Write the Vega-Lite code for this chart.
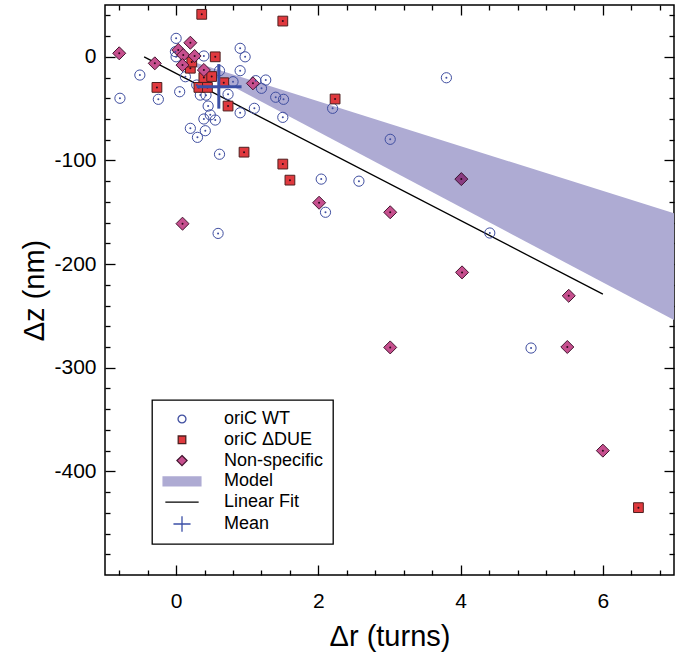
{
  "$schema": "https://vega.github.io/schema/vega-lite/v6.json",
  "width": 569,
  "height": 570,
  "autosize": {"type": "none"},
  "padding": {"left": 105, "top": 5, "right": 6, "bottom": 83},
  "config": {
    "font": "Liberation Sans",
    "view": {"stroke": "#000000", "strokeWidth": 1.5},
    "axis": {
      "domain": false,
      "grid": false,
      "tickColor": "#000000",
      "tickWidth": 1.3,
      "labelColor": "#000000",
      "labelFont": "Liberation Sans",
      "labelFontSize": 21,
      "titleFont": "Liberation Sans",
      "titleFontSize": 29,
      "titleFontWeight": "normal",
      "titleColor": "#000000",
      "labelFlush": false,
      "labelOverlap": false
    },
    "legend": {
      "labelFont": "Liberation Sans",
      "labelFontSize": 18,
      "labelColor": "#000000",
      "strokeColor": "#000000",
      "strokeWidth": 1.3,
      "symbolStrokeWidth": 1.3,
      "symbolOpacity": 1,
      "padding": 9,
      "rowPadding": 1.8,
      "symbolOffset": 11,
      "labelOffset": 32,
      "labelLimit": 400
    }
  },
  "datasets": {
    "points": [
      {"series": "oriC WT", "x": 0.0, "y": 17.8},
      {"series": "oriC WT", "x": -0.01, "y": 5},
      {"series": "oriC WT", "x": 0.0, "y": 0},
      {"series": "oriC WT", "x": 0.39, "y": 0.8},
      {"series": "oriC WT", "x": 0.9, "y": 8.2},
      {"series": "oriC WT", "x": 0.97, "y": 0},
      {"series": "oriC WT", "x": -0.51, "y": -17.6},
      {"series": "oriC WT", "x": -0.79, "y": -40},
      {"series": "oriC WT", "x": -0.25, "y": -41},
      {"series": "oriC WT", "x": 0.05, "y": -33.7},
      {"series": "oriC WT", "x": 0.13, "y": -19.2},
      {"series": "oriC WT", "x": 0.29, "y": -27.2},
      {"series": "oriC WT", "x": 0.61, "y": -13.4},
      {"series": "oriC WT", "x": 0.8, "y": -24},
      {"series": "oriC WT", "x": 0.9, "y": -13.4},
      {"series": "oriC WT", "x": 1.12, "y": -23},
      {"series": "oriC WT", "x": 1.26, "y": -22.4},
      {"series": "oriC WT", "x": 1.2, "y": -30.4},
      {"series": "oriC WT", "x": 1.4, "y": -39},
      {"series": "oriC WT", "x": 1.51, "y": -41},
      {"series": "oriC WT", "x": 1.5, "y": -58.4},
      {"series": "oriC WT", "x": 1.1, "y": -49.7},
      {"series": "oriC WT", "x": 0.9, "y": -54},
      {"series": "oriC WT", "x": 0.73, "y": -36.2},
      {"series": "oriC WT", "x": 0.34, "y": -36.9},
      {"series": "oriC WT", "x": 0.42, "y": -37},
      {"series": "oriC WT", "x": 0.34, "y": -29},
      {"series": "oriC WT", "x": 0.45, "y": -47.5},
      {"series": "oriC WT", "x": 0.48, "y": -56},
      {"series": "oriC WT", "x": 0.55, "y": -61},
      {"series": "oriC WT", "x": 0.39, "y": -60},
      {"series": "oriC WT", "x": 0.2, "y": -69},
      {"series": "oriC WT", "x": 0.41, "y": -71.3},
      {"series": "oriC WT", "x": 0.3, "y": -77.7},
      {"series": "oriC WT", "x": 0.61, "y": -94},
      {"series": "oriC WT", "x": 2.2, "y": -49.7},
      {"series": "oriC WT", "x": 3.8, "y": -20.2},
      {"series": "oriC WT", "x": 3.01, "y": -79.6},
      {"series": "oriC WT", "x": 2.04, "y": -118},
      {"series": "oriC WT", "x": 2.57, "y": -120},
      {"series": "oriC WT", "x": 2.1, "y": -150},
      {"series": "oriC WT", "x": 4.41, "y": -170},
      {"series": "oriC WT", "x": 4.99, "y": -281},
      {"series": "oriC WT", "x": 0.59, "y": -170.4},
      {"series": "oriC ΔDUE", "x": 0.36, "y": 41},
      {"series": "oriC ΔDUE", "x": 1.5, "y": 34.5},
      {"series": "oriC ΔDUE", "x": 0.55, "y": 0},
      {"series": "oriC ΔDUE", "x": -0.27, "y": -29.5},
      {"series": "oriC ΔDUE", "x": 0.2, "y": -11},
      {"series": "oriC ΔDUE", "x": 0.22, "y": -5},
      {"series": "oriC ΔDUE", "x": 0.39, "y": -20},
      {"series": "oriC ΔDUE", "x": 0.5, "y": -19},
      {"series": "oriC ΔDUE", "x": 0.67, "y": -25},
      {"series": "oriC ΔDUE", "x": 0.32, "y": -29.5},
      {"series": "oriC ΔDUE", "x": 0.44, "y": -29.5},
      {"series": "oriC ΔDUE", "x": 0.73, "y": -47.5},
      {"series": "oriC ΔDUE", "x": 0.955, "y": -92},
      {"series": "oriC ΔDUE", "x": 1.5, "y": -103.5},
      {"series": "oriC ΔDUE", "x": 1.6, "y": -119},
      {"series": "oriC ΔDUE", "x": 2.235, "y": -40.7},
      {"series": "oriC ΔDUE", "x": 6.5, "y": -435},
      {"series": "Non-specific", "x": -0.8, "y": 3.4},
      {"series": "Non-specific", "x": -0.3, "y": -6.3},
      {"series": "Non-specific", "x": 0.03, "y": 6.6},
      {"series": "Non-specific", "x": 0.1, "y": 1.7},
      {"series": "Non-specific", "x": 0.2, "y": 13.6},
      {"series": "Non-specific", "x": 0.26, "y": 0.8},
      {"series": "Non-specific", "x": 0.09, "y": -8},
      {"series": "Non-specific", "x": 0.39, "y": -12.7},
      {"series": "Non-specific", "x": 1.08, "y": -25.6},
      {"series": "Non-specific", "x": 2.01, "y": -140.8},
      {"series": "Non-specific", "x": 3.01, "y": -150},
      {"series": "Non-specific", "x": 4.02, "y": -208},
      {"series": "Non-specific", "x": 5.52, "y": -230.6},
      {"series": "Non-specific", "x": 3.01, "y": -280.4},
      {"series": "Non-specific", "x": 5.5, "y": -280},
      {"series": "Non-specific", "x": 6.0, "y": -380},
      {"series": "Non-specific", "x": 0.09, "y": -161},
      {"series": "Non-specific dark", "x": 4.01, "y": -118}
    ],
    "band": [
      {"x": 0.2, "upper": -4, "lower": -7},
      {"x": 7.0, "upper": -151, "lower": -254}
    ],
    "fit": [
      {"x": -0.45, "y": 0},
      {"x": 6.0, "y": -229}
    ],
    "mean": [
      {"x": 0.6, "y": -29, "xlo": 0.29, "xhi": 0.92, "ylo": -50, "yhi": -7}
    ]
  },
  "layer": [
    {
      "data": {"name": "band"},
      "mark": {"type": "area", "color": "#aeabd3", "opacity": 1},
      "encoding": {
        "x": {
          "field": "x", "type": "quantitative",
          "scale": {"domain": [-1, 7], "nice": false, "zero": false},
          "title": "Δr (turns)",
          "axis": {
            "orient": "bottom",
            "values": [-0.8, -0.4, 0, 0.4, 0.8, 1.2, 1.6, 2, 2.4, 2.8, 3.2, 3.6, 4, 4.4, 4.8, 5.2, 5.6, 6, 6.4, 6.8],
            "labelExpr": "datum.value % 2 === 0 ? '' + datum.value : ''",
            "tickSize": {"condition": {"test": "datum.value % 2 === 0", "value": -10}, "value": -5},
            "labelPadding": 25,
            "titlePadding": 6
          }
        },
        "y": {
          "field": "upper", "type": "quantitative",
          "scale": {"domain": [-500, 50], "nice": false, "zero": false},
          "title": "Δz (nm)",
          "axis": {
            "orient": "left",
            "values": [40, 20, 0, -20, -40, -60, -80, -100, -120, -140, -160, -180, -200, -220, -240, -260, -280, -300, -320, -340, -360, -380, -400, -420, -440, -460, -480],
            "labelExpr": "datum.value % 100 === 0 ? '' + datum.value : ''",
            "tickSize": {"condition": {"test": "datum.value % 100 === 0", "value": -10}, "value": -5},
            "labelPadding": 19,
            "titlePadding": 4
          }
        },
        "y2": {"field": "lower"}
      }
    },
    {
      "data": {"name": "fit"},
      "mark": {"type": "line", "color": "#000000", "strokeWidth": 1.3},
      "encoding": {
        "x": {
          "field": "x", "type": "quantitative", "title": null,
          "axis": {
            "orient": "top",
            "values": [-0.8, -0.4, 0, 0.4, 0.8, 1.2, 1.6, 2, 2.4, 2.8, 3.2, 3.6, 4, 4.4, 4.8, 5.2, 5.6, 6, 6.4, 6.8],
            "labels": false,
            "tickSize": {"condition": {"test": "datum.value % 2 === 0", "value": -10}, "value": -5}
          }
        },
        "y": {
          "field": "y", "type": "quantitative", "title": null,
          "axis": {
            "orient": "right",
            "values": [40, 20, 0, -20, -40, -60, -80, -100, -120, -140, -160, -180, -200, -220, -240, -260, -280, -300, -320, -340, -360, -380, -400, -420, -440, -460, -480],
            "labels": false,
            "tickSize": {"condition": {"test": "datum.value % 100 === 0", "value": -10}, "value": -5}
          }
        }
      }
    },
    {
      "data": {"name": "points"},
      "mark": {"type": "point", "filled": true, "size": 540, "strokeWidth": 1, "opacity": 1},
      "encoding": {
        "x": {"field": "x", "type": "quantitative", "axis": null},
        "y": {"field": "y", "type": "quantitative", "axis": null},
        "shape": {
          "field": "series", "type": "nominal",
          "scale": {
            "domain": ["oriC WT", "oriC ΔDUE", "Non-specific", "Model", "Linear Fit", "Mean", "Non-specific dark"],
            "range": [
              "M-0.44,0A0.44,0.44,0,1,1,0.44,0A0.44,0.44,0,1,1,-0.44,0Z",
              "M-0.42,-0.42H0.42V0.42H-0.42Z",
              "M0,-0.56L0.56,0L0,0.56L-0.56,0Z",
              "M-2.1,-0.5H2.1V0.5H-2.1Z",
              "M-1.85,0H1.85",
              "M-0.95,0H0.95M0,-0.85V0.85",
              "M0,-0.56L0.56,0L0,0.56L-0.56,0Z"
            ]
          },
          "legend": {
            "title": null,
            "orient": "none",
            "legendX": 47,
            "legendY": 395,
            "symbolSize": 324,
            "values": ["oriC WT", "oriC ΔDUE", "Non-specific", "Model", "Linear Fit", "Mean"]
          }
        },
        "fill": {
          "field": "series", "type": "nominal",
          "scale": {
            "domain": ["oriC WT", "oriC ΔDUE", "Non-specific", "Model", "Linear Fit", "Mean", "Non-specific dark"],
            "range": ["transparent", "#e0393e", "#c64f8e", "#aeabd3", "transparent", "transparent", "#8a3c82"]
          },
          "legend": {
            "title": null,
            "orient": "none",
            "legendX": 47,
            "legendY": 395,
            "symbolSize": 324,
            "values": ["oriC WT", "oriC ΔDUE", "Non-specific", "Model", "Linear Fit", "Mean"]
          }
        },
        "stroke": {
          "field": "series", "type": "nominal",
          "scale": {
            "domain": ["oriC WT", "oriC ΔDUE", "Non-specific", "Model", "Linear Fit", "Mean", "Non-specific dark"],
            "range": ["#3f4ea0", "#4d1f1f", "#43162f", "#aeabd3", "#000000", "#3b4fa6", "#3a1432"]
          },
          "legend": {
            "title": null,
            "orient": "none",
            "legendX": 47,
            "legendY": 395,
            "symbolSize": 324,
            "values": ["oriC WT", "oriC ΔDUE", "Non-specific", "Model", "Linear Fit", "Mean"]
          }
        }
      }
    },
    {
      "data": {"name": "points"},
      "mark": {"type": "point", "filled": true, "shape": "circle", "size": 4, "strokeWidth": 0, "opacity": 1},
      "encoding": {
        "x": {"field": "x", "type": "quantitative", "axis": null},
        "y": {"field": "y", "type": "quantitative", "axis": null},
        "fill": {"condition": {"test": "datum.series === 'oriC WT'", "value": "#3f4ea0"}, "value": "#2a0a1a"}
      }
    },
    {
      "data": {"name": "mean"},
      "mark": {"type": "rule", "color": "#3b4fa6", "strokeWidth": 3},
      "encoding": {
        "x": {"field": "xlo", "type": "quantitative", "axis": null},
        "x2": {"field": "xhi"},
        "y": {"field": "y", "type": "quantitative", "axis": null}
      }
    },
    {
      "data": {"name": "mean"},
      "mark": {"type": "rule", "color": "#3b4fa6", "strokeWidth": 3},
      "encoding": {
        "x": {"field": "x", "type": "quantitative", "axis": null},
        "y": {"field": "ylo", "type": "quantitative", "axis": null},
        "y2": {"field": "yhi"}
      }
    }
  ],
  "resolve": {"axis": {"x": "independent", "y": "independent"}}
}
